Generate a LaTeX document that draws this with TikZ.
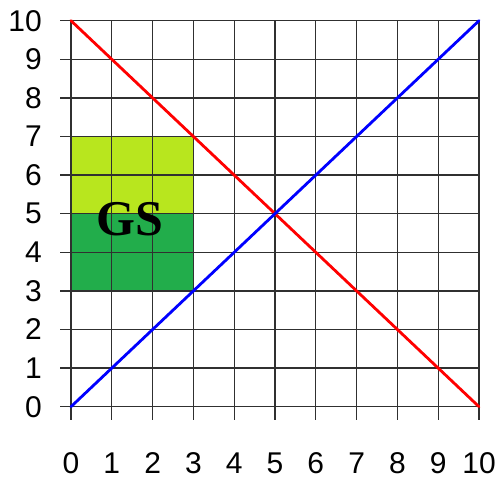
\documentclass[tikz,border=0pt]{standalone}
\usepackage{fontspec}
\setmainfont{Liberation Sans}
\newfontfamily\gsfont{Liberation Serif}
\definecolor{lightgreen}{HTML}{B8E61E}
\definecolor{darkgreen}{HTML}{22AD4B}
\definecolor{gridgray}{HTML}{303030}
\tikzset{
  gridline/.style={draw=gridgray, line width=1.3pt},
  plotline/.style={line width=2.8pt, line cap=round},
  ticklabel/.style={font=\fontsize{30}{30}\selectfont, inner sep=0pt},
}
\begin{document}
\begin{tikzpicture}[x=40.8pt, y=38.6pt]
\useasboundingbox (-71pt,-72.3pt) rectangle (432pt,406.7pt);
% filled regions
\fill[lightgreen] (0,5) rectangle (3,7);
\fill[darkgreen] (0,3) rectangle (3,5);
% grid
\foreach \i in {0,...,10} {
  \draw[gridline] ([xshift=-11pt]0,\i) -- (10,\i);
  \draw[gridline] (\i,10) -- ([yshift=-13.3pt]\i,0);
}
% coordinates for lines
\coordinate (o) at (0,0);
\coordinate (tr) at (10,10);
\coordinate (tl) at (0,10);
\coordinate (br) at (10,0);
\draw[plotline, red] (tl) -- (br);
\draw[plotline, blue] (o) -- (tr);
% GS label
\node[font=\gsfont\bfseries\fontsize{50}{50}\selectfont, inner sep=0pt] (gs) at (1.45,4.86) {GS};
% tick labels
\foreach \i in {0,...,10} {
  \node[ticklabel, anchor=east] (y\i) at ([xshift=-29pt]0,\i) {\i};
  \node[ticklabel, anchor=base] (x\i) at ([yshift=-66.5pt]\i,0) {\i};
}
\end{tikzpicture}
\end{document}
